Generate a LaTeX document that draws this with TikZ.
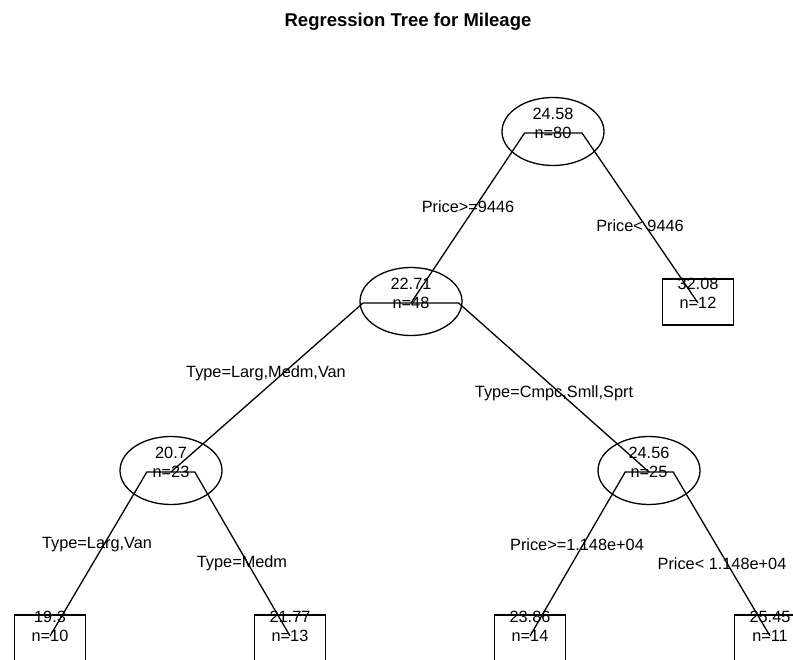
\documentclass[tikz,border=0pt]{standalone}
\usepackage{fontspec}
\setmainfont{Liberation Sans}
\usetikzlibrary{calc,shapes.geometric}
\begin{document}
\begin{tikzpicture}[x=1pt,y=-1pt,
  lbl/.style={font=\fontsize{16.3}{19}\selectfont, inner sep=0pt, anchor=base},
  splitnode/.style={ellipse, draw, line width=1.3pt, minimum width=102pt, minimum height=68pt, inner sep=0pt},
  leafnode/.style={rectangle, draw, line width=1.4pt, minimum width=71pt, minimum height=46pt, inner sep=0pt},
  branch/.style={line width=1.3pt},
]
\useasboundingbox (0,0) rectangle (793,660);
\clip (0,0) rectangle (793,660);

% split points of the tree
\coordinate (r) at (553,133);
\coordinate (a) at (411,303);
\coordinate (b) at (698,303);
\coordinate (c) at (171,472);
\coordinate (d) at (649,472);
\coordinate (l1) at (50,636);
\coordinate (l2) at (290,636);
\coordinate (l3) at (530,636);
\coordinate (l4) at (770,636);

% title
\node[font=\bfseries\fontsize{18.5}{22}\selectfont, anchor=base] (title) at (408,27) {Regression Tree for Mileage};

% interior nodes
\node[splitnode] (re) at ($(r)+(0,-1.5)$) {};
\node[splitnode] (ae) at ($(a)+(0,-1.5)$) {};
\node[splitnode] (ce) at ($(c)+(0,-1.5)$) {};
\node[splitnode] (de) at ($(d)+(0,-1.5)$) {};

% leaves
\node[leafnode] (be) at ($(b)+(0,-1)$) {};
\node[leafnode] (l1e) at ($(l1)+(0,2)$) {};
\node[leafnode] (l2e) at ($(l2)+(0,2)$) {};
\node[leafnode] (l3e) at ($(l3)+(0,2)$) {};
\node[leafnode] (l4e) at ($(l4)+(0,2)$) {};

% node values and counts
\foreach \p/\v/\n in {r/24.58/80, a/22.71/48, c/20.7/23, d/24.56/25, b/32.08/12, l1/19.3/10, l2/21.77/13, l3/23.86/14, l4/25.45/11}{
  \node[lbl] (\p v) at ($(\p)+(0,-13.5)$) {\v};
  \node[lbl] (\p n) at ($(\p)+(0,5.5)$) {n=\n};
}

% branches: a short level shoulder, then a slant down to the child
\foreach \p/\q in {r/a, r/b, a/c, a/d, c/l1, c/l2, d/l3, d/l4}{
  \draw[branch] (\p) -- ($(\p)!0.2!(\q |- \p)$) -- (\q);
}

% split labels
\node[lbl] (s1) at (468,213) {Price>=9446};
\node[lbl] (s2) at (640,232) {Price< 9446};
\node[lbl] (s3) at (266,378) {Type=Larg,Medm,Van};
\node[lbl] (s4) at (554,398) {Type=Cmpc,Smll,Sprt};
\node[lbl] (s5) at (97,548) {Type=Larg,Van};
\node[lbl] (s6) at (242,567) {Type=Medm};
\node[lbl] (s7) at (577,550) {Price>=1.148e+04};
\node[lbl] (s8) at (722,569) {Price< 1.148e+04};
\end{tikzpicture}
\end{document}
